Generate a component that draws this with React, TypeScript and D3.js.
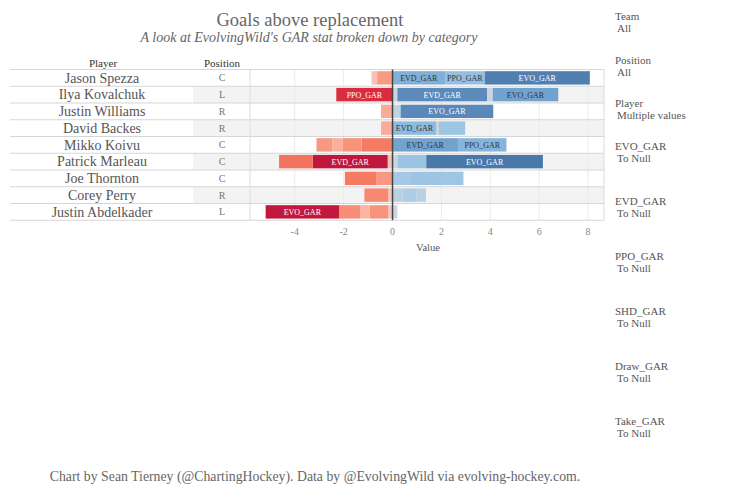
import React from "react";
import * as d3 from "d3";

const players = ["Jason Spezza", "Ilya Kovalchuk", "Justin Williams", "David Backes", "Mikko Koivu", "Patrick Marleau", "Joe Thornton", "Corey Perry", "Justin Abdelkader"];
const positions = ["C", "L", "R", "R", "C", "C", "C", "R", "L"];
// stacking order (from zero outward)
const categories = ["Take_GAR", "EVD_GAR", "Draw_GAR", "PPO_GAR", "SHD_GAR", "EVO_GAR"];
const EVO_GAR = [4.3, 2.68, 3.79, 0, -0.65, 4.77, 1.08, -0.97, -3.0];
const EVD_GAR = [2.15, 3.67, 0, 1.8, 2.68, -3.06, 1.1, 0.55, 0.2];
const PPO_GAR = [1.62, -2.3, 0, 1.07, 1.98, 1.18, 0, 0.4, -0.38];
const SHD_GAR = [0, 0, -0.47, -0.47, -0.41, -1.38, -1.3, 0, -0.88];
const Draw_GAR = [-0.23, 0.23, 0, 0.1, -0.79, 0.2, -0.65, -0.18, -0.75];
const Take_GAR = [-0.63, 0.2, 0.33, 0, -1.26, -0.2, 0.72, 0.42, -0.18];
const xTicks = [-4, -2, 0, 2, 4, 6, 8];
const filters = [
  ["Team", "All"],
  ["Position", "All"],
  ["Player", "Multiple values"],
  ["EVO_GAR", "To Null"],
  ["EVD_GAR", "To Null"],
  ["PPO_GAR", "To Null"],
  ["SHD_GAR", "To Null"],
  ["Draw_GAR", "To Null"],
  ["Take_GAR", "To Null"],
];
const filterY = [16, 60, 103, 146, 201, 256, 311, 366, 421];

const FONT = "'Liberation Serif', 'DejaVu Serif', serif";

export default function App() {
  const W = 750, H = 499;
  const tableLeft = 10, posLeft = 193, chartLeft = 250, chartRight = 604;
  const rowTop = 69.5, rowH = 16.75;
  const bottom = rowTop + rowH * players.length;

  const valueMap: Record<string, number[]> = { EVO_GAR, EVD_GAR, PPO_GAR, SHD_GAR, Draw_GAR, Take_GAR };
  const table = players.map((p, i) => {
    const o: any = { player: p };
    categories.forEach((c) => (o[c] = valueMap[c][i]));
    return o;
  });
  const series = d3.stack<any>().keys(categories).offset(d3.stackOffsetDiverging)(table);

  const x = d3.scaleLinear().domain([-5.83, 8.65]).range([chartLeft, chartRight]);
  const y = d3.scaleBand().domain(players).range([rowTop, bottom]).paddingInner(0.2).paddingOuter(0.1);

  const color = d3
    .scaleLinear<string>()
    .domain([-3.1, -2.3, -1.3, -0.65, -0.25, 0, 0.25, 0.45, 0.7, 1.6, 2.2, 3.7, 4.8])
    .range(["#bd163d", "#db2b41", "#f47a62", "#f99882", "#fcc0b1", "#d3d3d3", "#c9d5df", "#b5cfe3", "#a4c8e5", "#94c0e2", "#7eaed7", "#5a89ba", "#4878a9"])
    .interpolate(d3.interpolateRgb)
    .clamp(true);

  const rowY = (i: number) => rowTop + i * rowH;

  return (
    <svg width={W} height={H} style={{ position: "absolute", left: 0, top: 0, background: "#fff" }} fontFamily={FONT}>
      <text x={310} y={26} textAnchor="middle" fontSize={18.5} fill="#666">Goals above replacement</text>
      <text x={309} y={42} textAnchor="middle" fontSize={14} fontStyle="italic" fill="#666">A look at EvolvingWild's GAR stat broken down by category</text>

      {/* headers */}
      <text x={103} y={67} textAnchor="middle" fontSize={11} fill="#333">Player</text>
      <text x={222} y={67} textAnchor="middle" fontSize={11} fill="#333">Position</text>

      {/* row shading */}
      {players.map((p, i) =>
        i % 2 === 1 ? <rect key={"bg" + i} x={posLeft} y={rowY(i)} width={chartRight - posLeft} height={rowH} fill="#f3f3f3" /> : null
      )}

      {/* grid lines */}
      {xTicks.filter((t) => t !== 0).map((t) => (
        <line key={"g" + t} x1={x(t)} x2={x(t)} y1={rowTop} y2={bottom} stroke="#ebebeb" strokeWidth={1} />
      ))}

      {/* row lines */}
      {d3.range(players.length + 1).map((i) => (
        <line key={"rl" + i} x1={tableLeft} x2={chartRight} y1={rowY(i)} y2={rowY(i)} stroke="#d6d6d6" strokeWidth={1} />
      ))}
      <line x1={chartLeft} x2={chartLeft} y1={rowTop} y2={bottom} stroke="#dcdcdc" />
      <line x1={chartRight} x2={chartRight} y1={rowTop} y2={bottom} stroke="#dcdcdc" />

      {/* names & positions */}
      {players.map((p, i) => (
        <g key={"n" + i}>
          <text x={102} y={rowY(i) + rowH / 2 + 4.8} textAnchor="middle" fontSize={14} fill="#555">{p}</text>
          <text x={222} y={rowY(i) + rowH / 2 + 3.5} textAnchor="middle" fontSize={10} fill="#777">{positions[i]}</text>
        </g>
      ))}

      {/* bars */}
      {series.map((s) =>
        s.map((d, i) => {
          const v = (d.data as any)[s.key] as number;
          if (!v) return null;
          const x0 = x(Math.min(d[0], d[1]));
          const x1 = x(Math.max(d[0], d[1]));
          const c = color(v);
          const showLabel = Math.abs(v) >= 1.5;
          const yy = y(players[i])!;
          return (
            <g key={s.key + i}>
              <rect x={x0} y={yy} width={x1 - x0} height={y.bandwidth()} fill={c} />
              {showLabel ? (
                <text x={(x0 + x1) / 2} y={yy + y.bandwidth() / 2 + 3} textAnchor="middle" fontSize={8} fill={d3.lab(c).l < 58 ? "#fff" : "#333"}>
                  {s.key}
                </text>
              ) : null}
            </g>
          );
        })
      )}

      {/* zero line */}
      <line x1={x(0)} x2={x(0)} y1={rowTop} y2={bottom} stroke="#444" strokeWidth={1.5} />

      {/* axis */}
      {xTicks.map((t) => (
        <text key={"t" + t} x={x(t)} y={235} textAnchor="middle" fontSize={10} fill="#888">{t < 0 ? "-" + Math.abs(t) : t}</text>
      ))}
      <text x={428} y={251} textAnchor="middle" fontSize={10.5} fill="#555">Value</text>

      {/* filters */}
      {filters.map((f, i) => (
        <g key={"f" + i}>
          <text x={615} y={filterY[i] + 4} fontSize={11} fill="#555">{f[0]}</text>
          <text x={617} y={filterY[i] + 16} fontSize={11} fill="#555">{f[1]}</text>
        </g>
      ))}

      <text x={315} y={481} textAnchor="middle" fontSize={13.8} fill="#666">Chart by Sean Tierney (@ChartingHockey). Data by @EvolvingWild via evolving-hockey.com.</text>
    </svg>
  );
}
